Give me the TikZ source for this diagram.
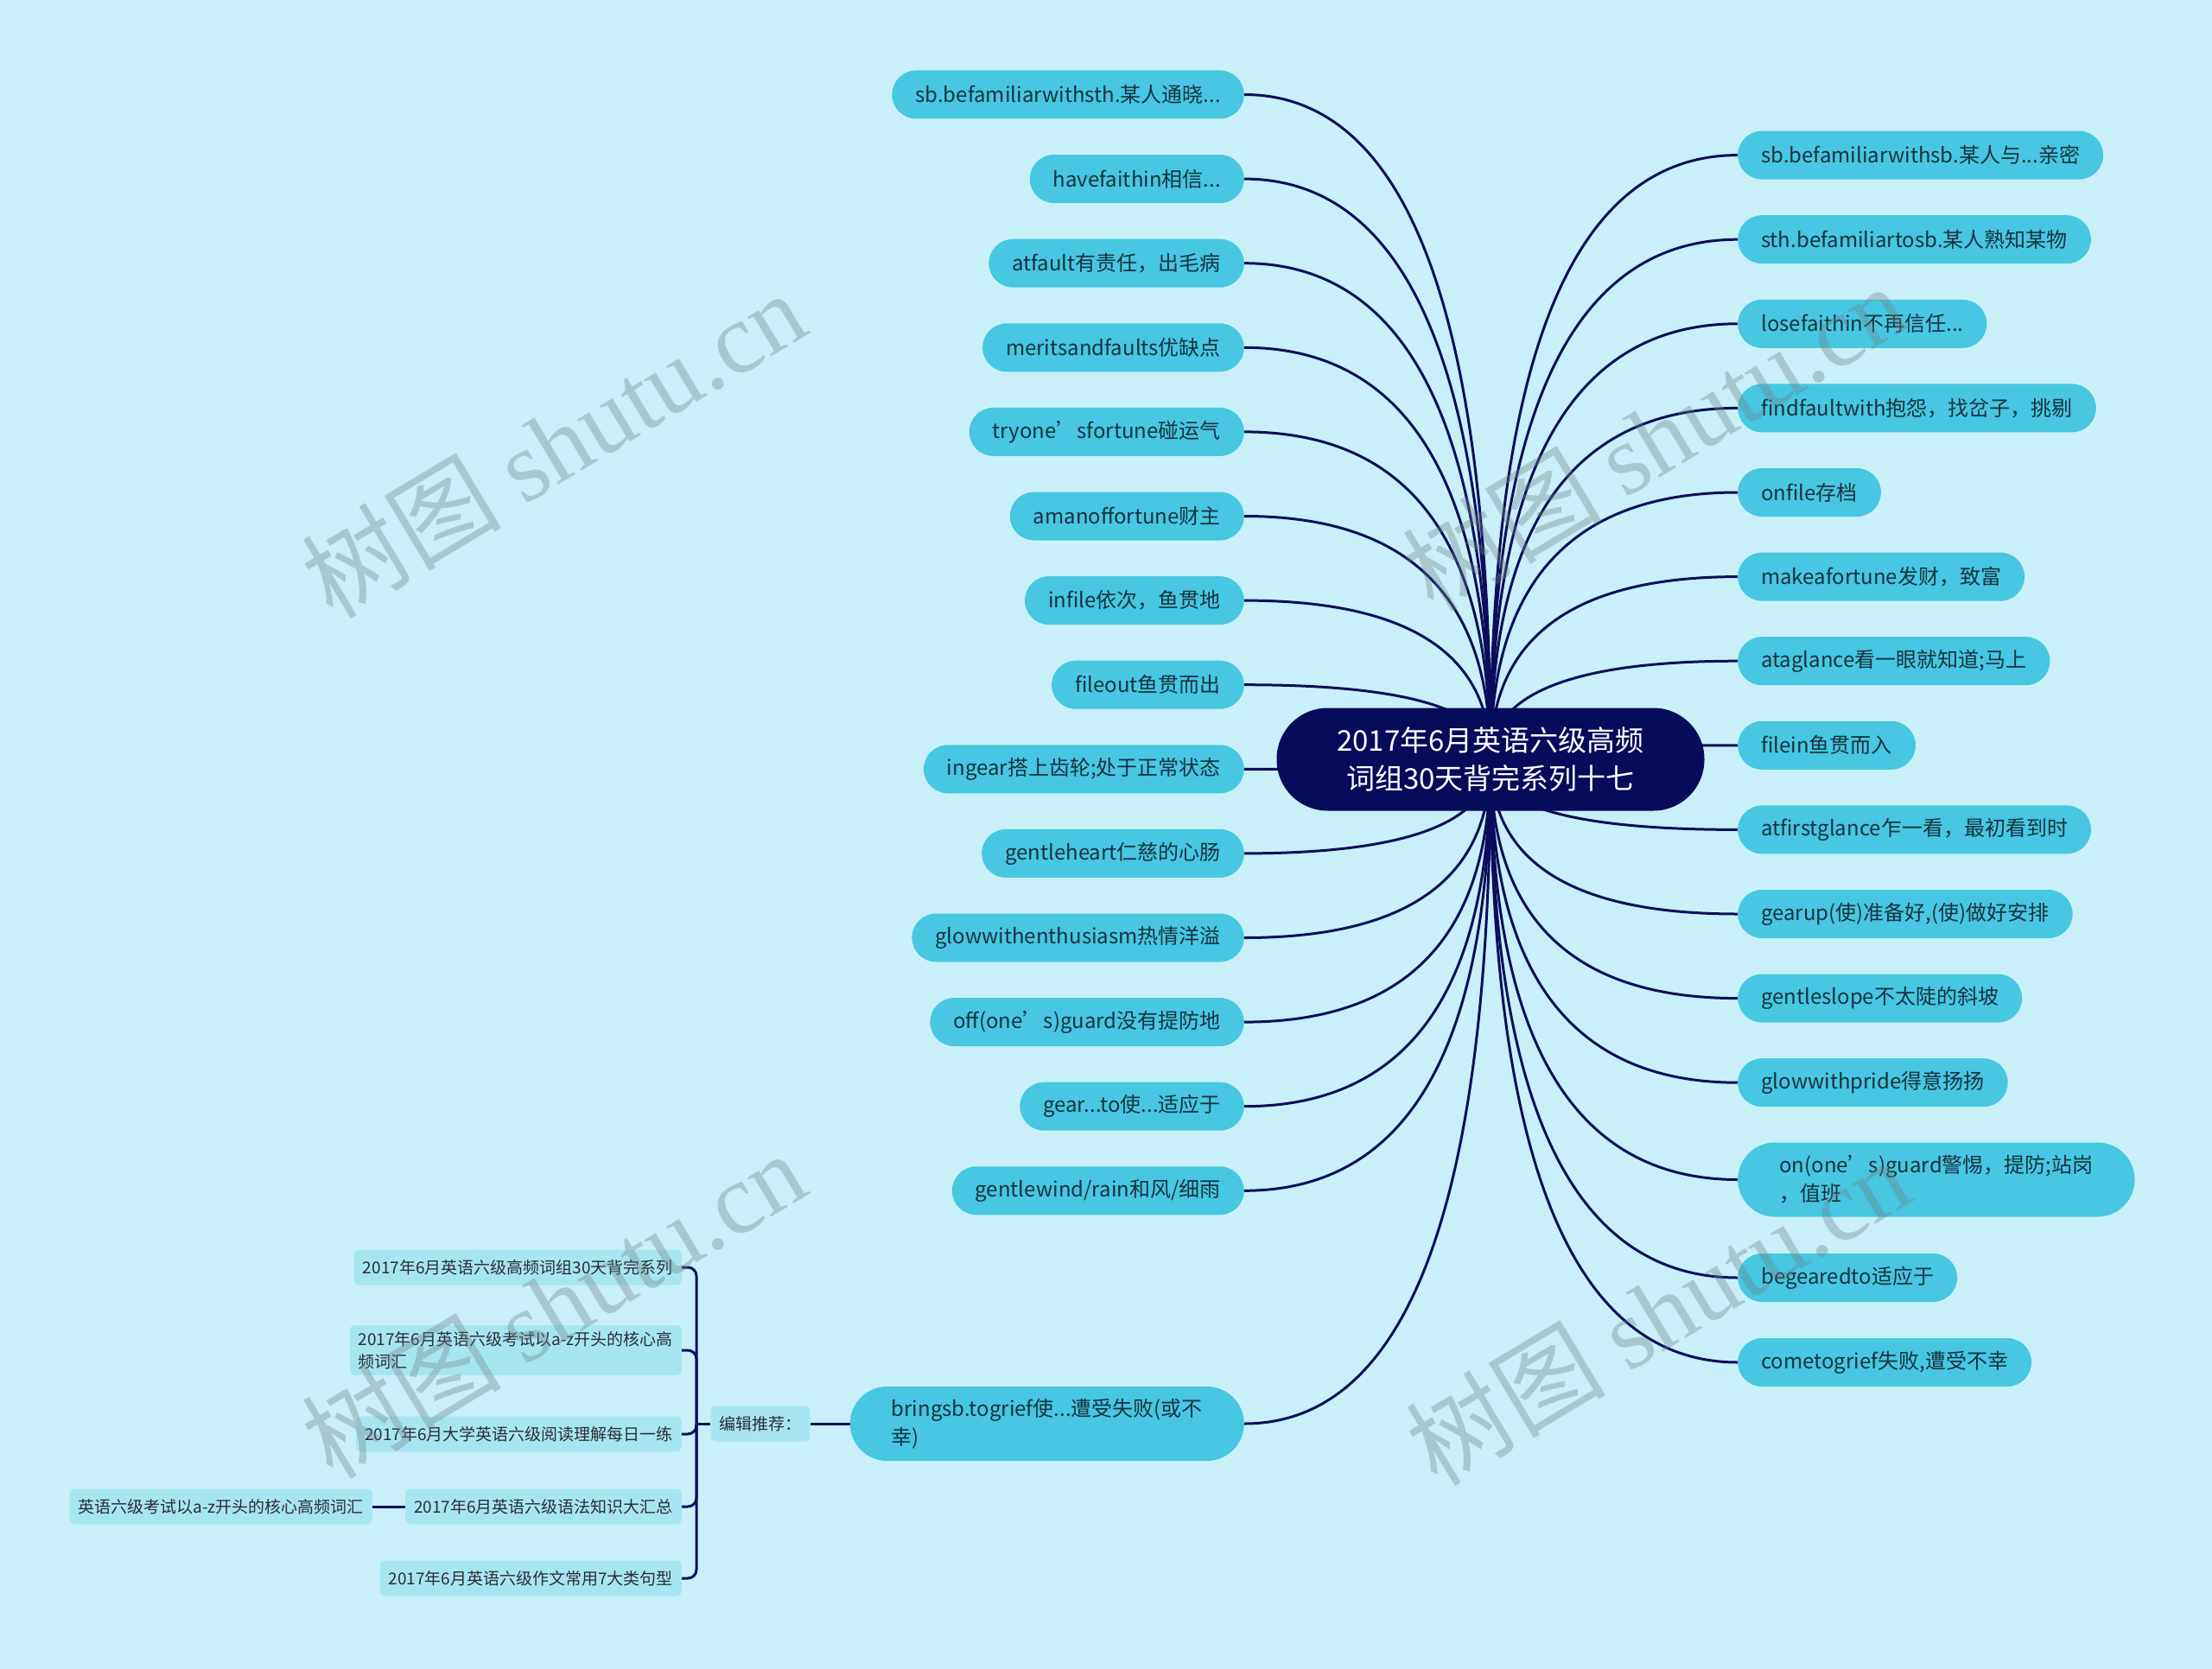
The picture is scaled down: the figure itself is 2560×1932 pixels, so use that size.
\documentclass[tikz,border=0pt]{standalone}
\usepackage{fontspec}
\setmainfont{Noto Sans CJK SC}
\newfontfamily\wmlatin{Liberation Serif}
\usetikzlibrary{calc}
\definecolor{bgc}{HTML}{C9F0F8}
\definecolor{leafc}{HTML}{47C7E1}
\definecolor{leaftext}{HTML}{17323F}
\definecolor{linec}{HTML}{0B0E5C}
\definecolor{rootc}{HTML}{070B5B}
\definecolor{subc}{HTML}{A8E5F3}
\definecolor{subtext}{HTML}{2A2F33}
\definecolor{wmc}{HTML}{6E8287}
\pgfdeclarelayer{bg}
\pgfsetlayers{bg,main}
\begin{document}
\begin{tikzpicture}[x=1pt,y=-1pt,
  leaf/.style={fill=leafc, text=leaftext, rounded corners=28pt, minimum height=56pt,
    inner xsep=27pt, inner ysep=0pt, font=\fontsize{24}{33}\selectfont},
  leaftwo/.style={leaf, align=left, minimum height=86pt, rounded corners=43pt, inner xsep=48pt},
  rootbox/.style={fill=rootc, text=white, rounded corners=59pt, minimum width=495pt,
    minimum height=119pt, align=center, font=\fontsize{33}{44}\selectfont},
  subbox/.style={fill=subc, text=subtext, rounded corners=6pt, inner xsep=10pt, inner ysep=7pt,
    minimum height=41pt, font=\fontsize{19}{26}\selectfont},
  conn/.style={draw=linec, line width=3pt},
  wm/.style={text=wmc, opacity=0.36, rotate=31, font=\fontsize{116}{116}\selectfont}
]
\useasboundingbox (0,0) rectangle (2560,1932);

% root
\node[rootbox] (root) at (1725,879) {2017年6月英语六级高频\\词组30天背完系列十七};

% left leaves
\node[leaf, anchor=east] (L1) at (1440,109.5) {sb.befamiliarwithsth.某人通晓...};
\node[leaf, anchor=east] (L2) at (1440,207.1) {havefaithin相信...};
\node[leaf, anchor=east] (L3) at (1440,304.7) {atfault有责任，出毛病};
\node[leaf, anchor=east] (L4) at (1440,402.3) {meritsandfaults优缺点};
\node[leaf, anchor=east] (L5) at (1440,499.9) {tryone’sfortune碰运气};
\node[leaf, anchor=east] (L6) at (1440,597.5) {amanoffortune财主};
\node[leaf, anchor=east] (L7) at (1440,695.1) {infile依次，鱼贯地};
\node[leaf, anchor=east] (L8) at (1440,792.7) {fileout鱼贯而出};
\node[leaf, anchor=east] (L9) at (1440,890.3) {ingear搭上齿轮;处于正常状态};
\node[leaf, anchor=east] (L10) at (1440,987.9) {gentleheart仁慈的心肠};
\node[leaf, anchor=east] (L11) at (1440,1085.5) {glowwithenthusiasm热情洋溢};
\node[leaf, anchor=east] (L12) at (1440,1183.1) {off(one’s)guard没有提防地};
\node[leaf, anchor=east] (L13) at (1440,1280.7) {gear...to使...适应于};
\node[leaf, anchor=east] (L14) at (1440,1378.3) {gentlewind/rain和风/细雨};
\node[leaftwo, anchor=east] (L15) at (1440,1648) {bringsb.togrief使...遭受失败(或不\\幸)};

% right leaves
\node[leaf, anchor=west] (R1) at (2011,179.6) {sb.befamiliarwithsb.某人与...亲密};
\node[leaf, anchor=west] (R2) at (2011,277.2) {sth.befamiliartosb.某人熟知某物};
\node[leaf, anchor=west] (R3) at (2011,374.8) {losefaithin不再信任...};
\node[leaf, anchor=west] (R4) at (2011,472.4) {findfaultwith抱怨，找岔子，挑剔};
\node[leaf, anchor=west] (R5) at (2011,570.0) {onfile存档};
\node[leaf, anchor=west] (R6) at (2011,667.6) {makeafortune发财，致富};
\node[leaf, anchor=west] (R7) at (2011,765.2) {ataglance看一眼就知道;马上};
\node[leaf, anchor=west] (R8) at (2011,862.8) {filein鱼贯而入};
\node[leaf, anchor=west] (R9) at (2011,960.4) {atfirstglance乍一看，最初看到时};
\node[leaf, anchor=west] (R10) at (2011,1058) {gearup(使)准备好,(使)做好安排};
\node[leaf, anchor=west] (R11) at (2011,1155.6) {gentleslope不太陡的斜坡};
\node[leaf, anchor=west] (R12) at (2011,1253.2) {glowwithpride得意扬扬};
\node[leaftwo, anchor=west] (R13) at (2011,1365.5) {on(one’s)guard警惕，提防;站岗\\，值班};
\node[leaf, anchor=west] (R14) at (2011,1479) {begearedto适应于};
\node[leaf, anchor=west] (R15) at (2011,1577) {cometogrief失败,遭受不幸};

% recommendation branch
\node[subbox] (ED) at (880,1648) {编辑推荐：};
\coordinate (br) at (806,1648);
\node[subbox, anchor=east] (C1) at (789,1467) {2017年6月英语六级高频词组30天背完系列};
\node[subbox, anchor=east, align=left] (C2) at (789,1563) {2017年6月英语六级考试以a-z开头的核心高\\频词汇};
\node[subbox, anchor=east] (C3) at (789,1660) {2017年6月大学英语六级阅读理解每日一练};
\node[subbox, anchor=east] (C4) at (789,1744) {2017年6月英语六级语法知识大汇总};
\node[subbox, anchor=east] (C4a) at (431,1744) {英语六级考试以a-z开头的核心高频词汇};
\node[subbox, anchor=east] (C5) at (789,1827) {2017年6月英语六级作文常用7大类句型};

\begin{pgfonlayer}{bg}
\fill[bgc] (0,0) rectangle (2560,1932);
\foreach \i in {1,...,15}{
  \draw[conn] (root.center) .. controls ($(root.center)!0.667!(root.center |- L\i.east)$)
    and ($(L\i.east)!0.667!(root.center |- L\i.east)$) .. (L\i.east);
  \draw[conn] (root.center) .. controls ($(root.center)!0.667!(root.center |- R\i.west)$)
    and ($(R\i.west)!0.667!(root.center |- R\i.west)$) .. (R\i.west);
}
\draw[conn] (L15.west) -- (ED.east);
\draw[conn] (ED.west) -- (br);
\foreach \i in {1,...,5}{
  \draw[conn, rounded corners=10pt] (br) |- (C\i.east);
}
\draw[conn] (C4.west) -- (C4a.east);
\end{pgfonlayer}

% watermarks
\node[wm] (W1) at (640,514) {树图 {\wmlatin shutu.cn}};
\node[wm] (W2) at (640,1510) {树图 {\wmlatin shutu.cn}};
\node[wm] (W3) at (1914,506) {树图 {\wmlatin shutu.cn}};
\node[wm] (W4) at (1918,1518) {树图 {\wmlatin shutu.cn}};
\end{tikzpicture}
\end{document}
